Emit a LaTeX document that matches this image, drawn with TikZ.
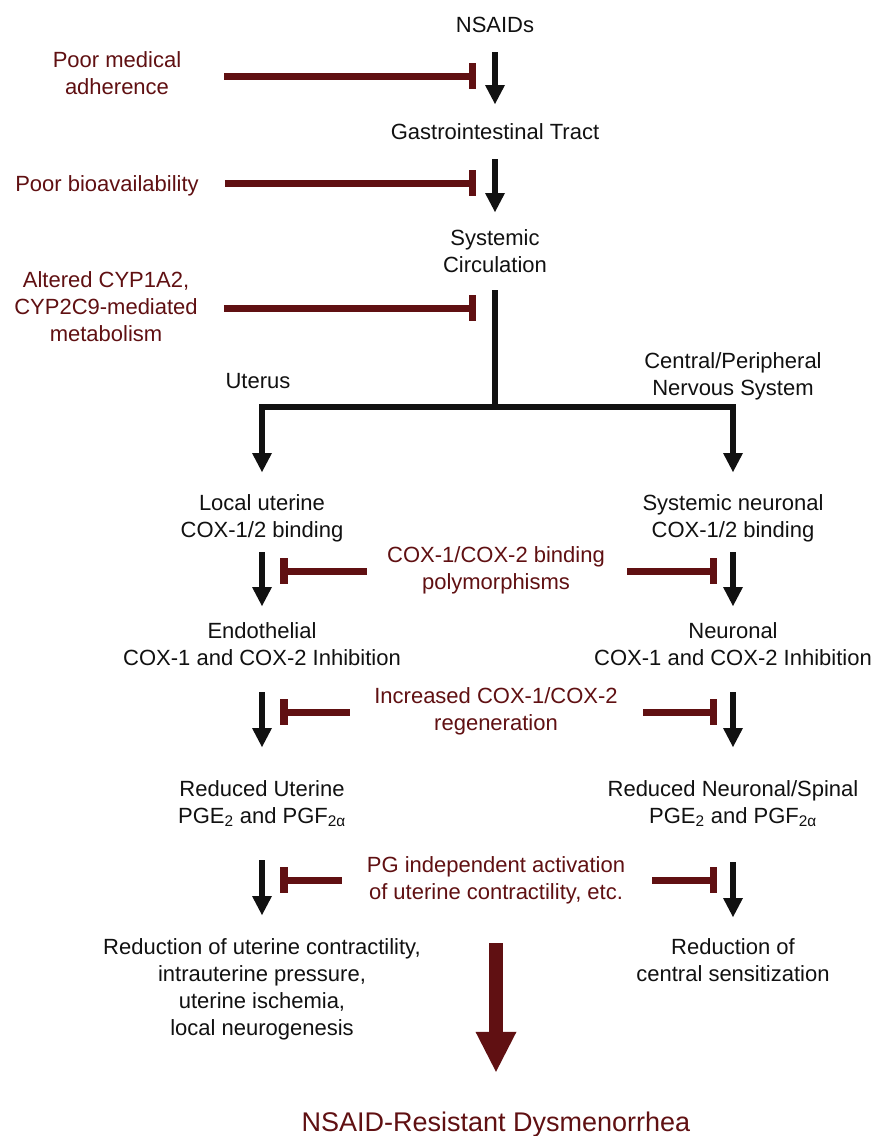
\documentclass[tikz,border=0pt]{standalone}
\usepackage{fontspec}
\setmainfont{Liberation Sans}
\usetikzlibrary{arrows.meta}
\definecolor{dred}{RGB}{96,16,18}
\definecolor{txt}{RGB}{17,17,17}
\begin{document}
\begin{tikzpicture}[x=1pt,y=-1pt,
  lbl/.style={align=center, anchor=north, inner sep=0pt, text=txt,
    font=\fontsize{22}{27}\selectfont,
    execute at begin node=\strut, execute at end node=\strut},
  rlbl/.style={lbl, text=dred},
  arr/.style={draw=txt, line width=6.5pt, -{Triangle[width=20pt,length=19pt,line width=0pt]}},
  inh/.style={draw=dred, line width=7pt, -{Rectangle[length=7.5pt,width=26pt,line width=0pt]}},
  bigarr/.style={draw=dred, line width=14pt, -{Triangle[width=41pt,length=40pt,line width=0pt]}}
]
\useasboundingbox (0,0) rectangle (875,1136);
\fill[white] (0,0) rectangle (875,1136);

% main spine
\node[lbl] (ns) at (495,13) {NSAIDs};
\node[lbl] (gi) at (495,120) {Gastrointestinal Tract};
\node[lbl] (sc) at (495,229) {Systemic\\Circulation};

% left factors
\node[rlbl] (pm) at (117,51) {Poor medical\\adherence};
\node[rlbl] (pb) at (107,172) {Poor bioavailability};
\node[rlbl] (cyp) at (106,271) {Altered CYP1A2,\\CYP2C9-mediated\\metabolism};

% branches
\node[lbl] (ut) at (258,369) {Uterus};
\node[lbl] (cns) at (733,352) {Central/Peripheral\\Nervous System};

\node[lbl] (lu) at (262,494) {Local uterine\\COX-1/2 binding};
\node[lbl] (sn) at (733,494) {Systemic neuronal\\COX-1/2 binding};
\node[rlbl] (pol) at (496,546) {COX-1/COX-2 binding\\polymorphisms};

\node[lbl] (en) at (262,622) {Endothelial\\COX-1 and COX-2 Inhibition};
\node[lbl] (ne) at (733,622) {Neuronal\\COX-1 and COX-2 Inhibition};
\node[rlbl] (reg) at (496,687) {Increased COX-1/COX-2\\regeneration};

\node[lbl] (ru) at (262,780) {Reduced Uterine\\PGE\textsubscript{2} and PGF\textsubscript{2α}};
\node[lbl] (rn) at (733,780) {Reduced Neuronal/Spinal\\PGE\textsubscript{2} and PGF\textsubscript{2α}};
\node[rlbl] (pg) at (496,856) {PG independent activation\\of uterine contractility, etc.};

\node[lbl] (rc) at (262,938) {Reduction of uterine contractility,\\intrauterine pressure,\\uterine ischemia,\\local neurogenesis};
\node[lbl] (cs) at (733,938) {Reduction of\\central sensitization};

\node[rlbl, anchor=base, font=\fontsize{27}{32}\selectfont] (res) at (496,1131) {NSAID-Resistant Dysmenorrhea};

% coordinates
\coordinate (jct) at (495,407);
\coordinate (bigtop) at (496,943);
\coordinate (i1e) at (476,76);
\coordinate (i2e) at (476,183);
\coordinate (i3e) at (476,308);
\coordinate (l1e) at (280,571);
\coordinate (r1e) at (717,571);
\coordinate (l2e) at (280,712);
\coordinate (r2e) at (717,712);
\coordinate (l3e) at (280,880);
\coordinate (r3e) at (717,880);

% black arrows
\draw[arr, shorten <=12pt, shorten >=16pt] (ns) -- (gi);
\draw[arr, shorten <=12pt, shorten >=17pt] (gi) -- (sc);
\draw[draw=txt, line width=6.5pt, shorten <=10pt] (sc) -- (jct);
\draw[arr, line join=miter, shorten >=22pt] (jct) -| (lu);
\draw[arr, line join=miter, shorten >=22pt] (jct) -| (sn);
\draw[arr, shorten <=7pt, shorten >=16pt] (lu) -- (en);
\draw[arr, shorten <=7pt, shorten >=16pt] (sn) -- (ne);
\draw[arr, shorten <=19pt, shorten >=33pt] (en) -- (ru);
\draw[arr, shorten <=19pt, shorten >=33pt] (ne) -- (rn);
\draw[arr, shorten <=29pt, shorten >=23pt] (ru) -- (rc);
\draw[arr, shorten <=31pt, shorten >=21pt] (rn) -- (cs);

% big result arrow
\draw[bigarr, shorten >=36.6pt] (bigtop) -- (res);

% inhibitors
\draw[inh, shorten <=43pt] (pm.east |- i1e) -- (i1e);
\draw[inh, shorten <=26pt] (pb.east |- i2e) -- (i2e);
\draw[inh, shorten <=26pt] (cyp.east |- i3e) -- (i3e);
\draw[inh, shorten <=20pt] (pol.west |- l1e) -- (l1e);
\draw[inh, shorten <=22pt] (pol.east |- r1e) -- (r1e);
\draw[inh, shorten <=24.5pt] (reg.west |- l2e) -- (l2e);
\draw[inh, shorten <=25.5pt] (reg.east |- r2e) -- (r2e);
\draw[inh, shorten <=25pt] (pg.west |- l3e) -- (l3e);
\draw[inh, shorten <=27pt] (pg.east |- r3e) -- (r3e);
\end{tikzpicture}
\end{document}
